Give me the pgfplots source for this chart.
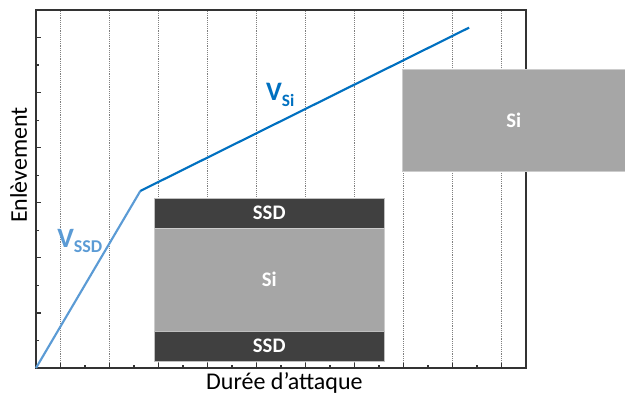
\documentclass[border=0pt]{standalone}
\usepackage{pgfplots}
\pgfplotsset{compat=1.18}
\usepackage{fontspec}
\setmainfont{Carlito}
\definecolor{lblue}{HTML}{5B9BD5}
\definecolor{dblue}{HTML}{0070C0}
\definecolor{ssdgray}{HTML}{404040}
\definecolor{sigray}{HTML}{A6A6A6}
\begin{document}
\begin{tikzpicture}
% image frame: 625x399 px at 0.75pt per px, axis box at (36,31) px from lower left
\path[use as bounding box] (-27pt,-23.25pt) rectangle (441.75pt,276pt);
\begin{axis}[
  at={(0pt,0pt)}, anchor=south west,
  scale only axis, width=367.5pt, height=268.5pt,
  xmin=0, xmax=10, ymin=0, ymax=13,
  xtick={0.5,1.5,...,9.5}, minor xtick={1,2,...,9},
  ytick={2,4,...,12}, minor ytick={1,3,...,11},
  xticklabels={}, yticklabels={},
  tick align=inside, tick pos=left,
  major tick length=4pt, minor tick length=2.3pt,
  every tick/.style={black!80, line width=0.9pt},
  xmajorgrids,
  major grid style={densely dotted, black!50, line width=0.75pt},
  axis line style={black!80, line width=1.1pt},
  clip=false,
]
  % etch depth vs time
  \addplot[lblue, line width=1.6pt] coordinates {(0,0) (2.13,6.43)};
  \addplot[dblue, line width=1.6pt] coordinates {(2.13,6.43) (8.84,12.36)};

  % layer stack
  \fill[ssdgray, draw=black!25, line width=0.3pt] (axis cs:2.41,5.08) rectangle (axis cs:7.11,6.17);
  \fill[sigray, draw=black!20, line width=0.3pt] (axis cs:2.41,1.35) rectangle (axis cs:7.11,5.08);
  \fill[ssdgray, draw=black!25, line width=0.3pt] (axis cs:2.41,0.23) rectangle (axis cs:7.11,1.35);
  \fill[sigray, draw=black!20, line width=0.3pt] (axis cs:7.48,7.16) rectangle (axis cs:12.02,10.86);

  \node[white, font=\bfseries\fontsize{15.5}{16}\selectfont] at (axis cs:4.76,5.63) {SSD};
  \node[white, font=\bfseries\fontsize{15.5}{16}\selectfont] at (axis cs:4.76,3.22) {Si};
  \node[white, font=\bfseries\fontsize{15.5}{16}\selectfont] at (axis cs:4.76,0.79) {SSD};
  \node[white, font=\bfseries\fontsize{15.5}{16}\selectfont] at (axis cs:9.75,9.0) {Si};

  \node[anchor=base west, inner sep=0pt, lblue, font=\bfseries\fontsize{21}{21}\selectfont]
    at (axis cs:0.43,4.39) {V\raisebox{-3.75pt}{\fontsize{13.5}{13}\selectfont SSD}};
  \node[anchor=base west, inner sep=0pt, dblue, font=\bfseries\fontsize{20}{20}\selectfont]
    at (axis cs:4.69,9.73) {V\raisebox{-4.5pt}{\fontsize{13}{13}\selectfont Si}};
\end{axis}
\node[anchor=base, inner sep=0pt, font=\fontsize{18}{18}\selectfont] at (186.3pt,-16.5pt) {Durée d’attaque};
\node[anchor=base, rotate=90, inner sep=0pt, font=\fontsize{18}{18}\selectfont] at (-6.75pt,152.2pt) {Enlèvement};
\end{tikzpicture}
\end{document}
